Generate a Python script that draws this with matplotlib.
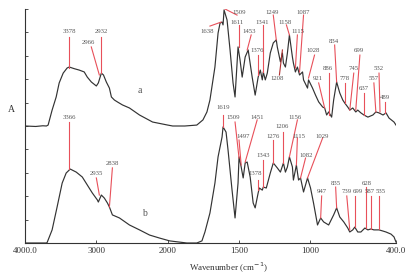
import numpy as np
import matplotlib
matplotlib.use("Agg")
import matplotlib.pyplot as plt
from matplotlib.ticker import FixedLocator, FixedFormatter, NullLocator

plt.rcParams['font.family'] = ['Liberation Serif', 'DejaVu Serif']

# ---------------- data ----------------
wn_a = [4000, 3850, 3750, 3700, 3676, 3620, 3563, 3521, 3465, 3409, 3380, 3310, 3240, 3170, 3127,
        3070, 3000, 2972, 2930, 2900, 2860, 2817, 2789, 2747, 2700, 2634, 2536, 2395, 2212, 2000,
        1965, 1880, 1796, 1753, 1725, 1704, 1669, 1647, 1633, 1619, 1612, 1605, 1584, 1563, 1542,
        1528, 1507, 1493, 1478, 1457, 1436, 1408, 1387, 1366, 1351, 1337, 1330, 1316, 1302, 1281,
        1260, 1239, 1232, 1210, 1196, 1189, 1175, 1161, 1147, 1126, 1119, 1105, 1091, 1076, 1055,
        1048, 1020, 1013, 985, 964, 942, 914, 900, 886, 872, 851, 837, 816, 794, 773, 759, 738,
        724, 703, 682, 668, 646, 625, 597, 562, 541, 519, 491, 470, 449, 414, 400]
abs_a = [5.00, 4.98, 5.01, 5.00, 5.04, 5.68, 6.24, 6.84, 7.26, 7.48, 7.52, 7.45, 7.39, 7.31, 7.09,
         6.88, 6.71, 6.84, 7.26, 7.18, 6.88, 6.62, 6.24, 6.11, 6.02, 5.90, 5.77, 5.47, 5.17, 5.04,
         5.00, 5.00, 5.04, 5.26, 5.60, 6.11, 7.52, 8.97, 9.40, 9.44, 9.32, 9.96, 9.53, 8.25, 6.84,
         6.24, 8.38, 7.82, 7.09, 7.95, 8.25, 7.09, 6.32, 7.09, 7.39, 6.97, 7.31, 6.97, 7.26, 8.12,
         8.55, 8.68, 8.38, 7.74, 8.12, 7.69, 7.52, 8.12, 8.89, 7.95, 7.69, 7.31, 7.52, 7.18, 7.31,
         6.97, 6.62, 6.97, 6.62, 6.32, 6.03, 5.81, 5.77, 5.47, 5.60, 5.38, 6.11, 6.88, 6.41, 6.11,
         5.98, 5.81, 5.68, 5.77, 5.60, 5.68, 5.56, 5.47, 5.38, 5.47, 5.60, 5.56, 5.47, 5.56, 5.34,
         5.17, 5.04]

wn_b = [4000, 3850, 3750, 3700, 3690, 3620, 3550, 3479, 3423, 3366, 3282, 3197, 3127, 3057, 2986,
        2972, 2930, 2888, 2845, 2817, 2775, 2676, 2536, 2395, 2254, 2113, 1986, 1866, 1796, 1760,
        1739, 1704, 1669, 1647, 1619, 1612, 1591, 1577, 1549, 1528, 1507, 1500, 1485, 1471, 1457,
        1443, 1422, 1401, 1387, 1366, 1358, 1337, 1330, 1309, 1281, 1260, 1232, 1210, 1189, 1175,
        1161, 1147, 1126, 1119, 1098, 1083, 1069, 1048, 1020, 999, 978, 950, 928, 907, 872, 837,
        816, 794, 766, 738, 724, 703, 689, 668, 646, 618, 597, 576, 555, 519, 491, 470, 435, 414, 400]
abs_b = [0.00, 0.00, 0.00, 0.00, 0.02, 0.56, 1.54, 2.56, 2.99, 3.16, 3.03, 2.82, 2.48, 2.14, 1.84,
         1.75, 2.05, 1.92, 1.71, 1.54, 1.20, 1.07, 0.77, 0.56, 0.34, 0.21, 0.09, 0.00, 0.00, 0.09,
         0.47, 1.28, 2.56, 3.68, 4.53, 4.96, 4.74, 3.97, 2.26, 1.07, 2.56, 3.68, 3.25, 2.78, 3.42,
         3.46, 2.82, 1.71, 1.50, 2.14, 2.35, 2.26, 2.39, 2.35, 2.99, 3.42, 3.21, 3.03, 3.42, 3.03,
         3.25, 3.68, 3.25, 2.69, 3.33, 2.69, 2.78, 2.18, 2.78, 2.35, 1.71, 0.77, 1.07, 0.90, 0.77,
         1.20, 1.50, 1.11, 0.90, 0.64, 0.47, 0.56, 0.68, 0.47, 0.47, 0.64, 0.56, 0.60, 0.56, 0.56,
         0.51, 0.47, 0.38, 0.26, 0.04]

# peak labels: text, text position (wn, A), leader line start / end (wn, A)
peaks_a = ["3378", "2966", "2932", "1638", "1509", "1611", "1453", "1376", "1341", "1249",
           "1208", "1158", "1087", "1115", "1028", "921", "886", "834", "778", "745", "699",
           "637", "557", "532", "489"]
text_a = [(3380, 9.02), (3113, 8.55), (2930, 9.02), (1725, 9.02), (1500, 9.87), (1514, 9.44),
          (1429, 9.02), (1373, 8.21), (1337, 9.44), (1267, 9.87), (1232, 7.01), (1175, 9.44),
          (1048, 9.87), (1084, 9.02), (978, 8.21), (950, 7.01), (879, 7.44), (837, 8.59),
          (759, 7.01), (696, 7.44), (660, 8.21), (625, 6.62), (555, 7.01), (519, 7.44), (477, 6.20)]
line_a = [((3380, 8.80), (3380, 7.48)), ((3071, 8.38), (2958, 7.18)), ((2930, 8.80), (2930, 7.26)),
          ((1704, 9.27), (1626, 9.44)), ((1598, 10.0), (1514, 9.74)), ((1500, 9.32), (1500, 8.38)),
          ((1415, 8.89), (1443, 8.25)), ((1366, 8.03), (1366, 7.18)), ((1330, 9.32), (1330, 7.31)),
          ((1260, 9.74), (1239, 8.68)), ((1217, 7.18), (1196, 8.25)), ((1168, 9.32), (1147, 8.89)),
          ((1048, 9.74), (1076, 7.31)), ((1091, 8.89), (1105, 7.48)), ((971, 8.03), (1013, 7.05)),
          ((942, 6.84), (900, 5.77)), ((872, 7.26), (872, 5.47)), ((830, 8.46), (816, 6.88)),
          ((759, 6.84), (759, 5.98)), ((696, 7.26), (724, 5.68)), ((653, 8.03), (682, 5.68)),
          ((625, 6.41), (625, 5.47)), ((555, 6.84), (541, 5.60)), ((519, 7.26), (512, 5.60)),
          ((477, 6.03), (477, 5.56))]

peaks_b = ["3366", "2935", "2838", "1619", "1509", "1497", "1451", "1378", "1343", "1276",
           "1206", "1156", "1115", "1082", "1029", "947", "835", "739", "699", "628", "587", "535"]
text_b = [(3380, 5.38), (3000, 2.99), (2775, 3.38), (1612, 5.81), (1542, 5.38), (1471, 4.57),
          (1373, 5.38), (1387, 2.99), (1330, 3.76), (1260, 4.57), (1196, 5.00), (1105, 5.38),
          (1080, 4.57), (1027, 3.76), (921, 4.57), (921, 2.18), (823, 2.56), (745, 2.18),
          (666, 2.18), (604, 2.56), (583, 2.18), (510, 2.18)]
line_b = [((3380, 5.17), (3380, 3.16)), ((3000, 2.78), (2958, 2.05)), ((2775, 3.21), (2817, 1.54)),
          ((1612, 5.47), (1612, 4.96)), ((1528, 5.17), (1500, 3.63)), ((1500, 4.40), (1485, 3.33)),
          ((1373, 5.26), (1457, 3.46)), ((1366, 2.69), (1366, 2.26)), ((1330, 3.55), (1330, 2.39)),
          ((1260, 4.40), (1260, 3.42)), ((1189, 4.74), (1189, 3.42)), ((1091, 5.26), (1147, 3.68)),
          ((1091, 4.49), (1098, 3.33)), ((1034, 3.63), (1069, 2.78)), ((914, 4.49), (1020, 2.78)),
          ((921, 2.01), (928, 1.07)), ((823, 2.39), (816, 1.50)), ((745, 2.01), (724, 0.56)),
          ((689, 2.01), (689, 0.68)), ((611, 2.39), (611, 0.64)), ((576, 2.01), (576, 0.60)),
          ((519, 2.01), (519, 0.60))]

xticks = [4000, 3000, 2000, 1500, 1000, 400]
xticklabels = ["4000.0", "3000", "2000", "1500", "1000", "400.0"]

# ---------------- plot ----------------
def fwd(w):
    w = np.asarray(w, dtype=float)
    return np.where(w >= 2000, 1000 + w / 2.0, w)

def inv(v):
    v = np.asarray(v, dtype=float)
    return np.where(v >= 2000, 2.0 * (v - 1000), v)

fig = plt.figure(figsize=(4.13, 2.79), dpi=100)
ax = fig.add_axes([25 / 413, 36 / 279, (396 - 25) / 413, (270 - 36) / 279])
ax.set_xscale('function', functions=(fwd, inv))
ax.set_xlim(4000, 400)
ax.set_ylim(0, 10)

spec_col = '#333333'
red = '#e8505a'
txt_col = '#555555'

ax.plot(wn_a, abs_a, color=spec_col, lw=0.85)
ax.plot(wn_b, abs_b, color=spec_col, lw=0.85)

fs = 4.9
for lab, (tx, ty), ((x1, y1), (x2, y2)) in zip(peaks_a, text_a, line_a):
    c = '#b03030' if lab == "1208" else red
    ax.plot([x1, x2], [y1, y2], color=c, lw=0.8)
    ax.text(tx, ty, lab, fontsize=fs, color=txt_col, ha='center', va='center')
for lab, (tx, ty), ((x1, y1), (x2, y2)) in zip(peaks_b, text_b, line_b):
    ax.plot([x1, x2], [y1, y2], color=red, lw=0.8)
    ax.text(tx, ty, lab, fontsize=fs, color=txt_col, ha='center', va='center')

ax.text(2395, 6.50, "a", fontsize=7, color=txt_col, ha='center', va='center')
ax.text(2324, 1.28, "b", fontsize=7, color=txt_col, ha='center', va='center')

ax.xaxis.set_major_locator(FixedLocator(xticks))
ax.xaxis.set_major_formatter(FixedFormatter(xticklabels))
ax.xaxis.set_minor_locator(NullLocator())
ax.yaxis.set_major_locator(FixedLocator(np.arange(0, 11, 1)))
ax.set_yticklabels([])
ax.tick_params(axis='x', direction='in', length=2, width=0.6, labelsize=6.5,
               pad=3, colors='#333333')
ax.tick_params(axis='y', direction='in', length=2.5, width=0.6, colors='#333333')
for s in ['top', 'right']:
    ax.spines[s].set_visible(False)
for s in ['left', 'bottom']:
    ax.spines[s].set_linewidth(0.8)
    ax.spines[s].set_color('#333333')

fig.text(11 / 413, 1 - 110 / 279, "A", fontsize=7, color='#333333', ha='center', va='center')
fig.text(228 / 413, 1 - 268 / 279, "Wavenumber (cm$^{-1}$)", fontsize=6.5, color='#333333',
         ha='center', va='center')

fig.savefig("out.png", dpi=100)
